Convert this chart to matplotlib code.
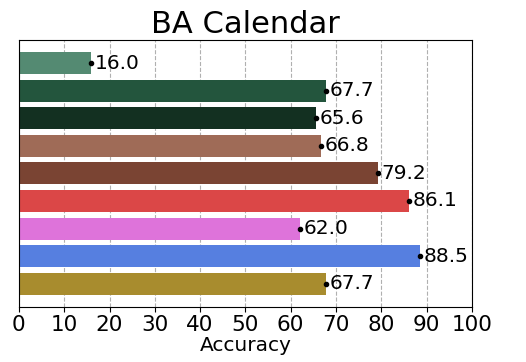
import matplotlib
matplotlib.use("Agg")
import matplotlib.pyplot as plt

# values top to bottom
accuracy = [16.0, 67.7, 65.6, 66.8, 79.2, 86.1, 62.0, 88.5, 67.7]
colors = ["#548a72", "#23553d", "#133021", "#9f6b57", "#7a4433",
          "#db4747", "#de73da", "#567fe0", "#a88c2e"]
xticks = [0, 10, 20, 30, 40, 50, 60, 70, 80, 90, 100]

fig = plt.figure(figsize=(5.26, 3.62), dpi=100)
ax = fig.add_axes([0.036, 0.152, 0.861, 0.738])

pos = list(range(len(accuracy)))[::-1]
ax.barh(pos, accuracy, color=colors, height=0.8, zorder=2)

# dot + label at end of each bar
for y, v in zip(pos, accuracy):
    ax.plot(v, y, "o", color="black", markersize=3, zorder=3)
    ax.text(v + 0.8, y, f"{v:.1f}", va="center", ha="left", fontsize=14.5)

ax.set_xlim(0, 100)
ax.set_xticks(xticks)
ax.set_yticks([])
ax.tick_params(axis="x", labelsize=15.5, pad=2)
ax.grid(axis="x", linestyle="--", color="#b0b0b0", linewidth=0.8, zorder=0)
ax.set_xlabel("Accuracy", fontsize=14.5, labelpad=1)
ax.set_title("BA Calendar", fontsize=22, pad=5)

plt.savefig("out.png", dpi=100)
